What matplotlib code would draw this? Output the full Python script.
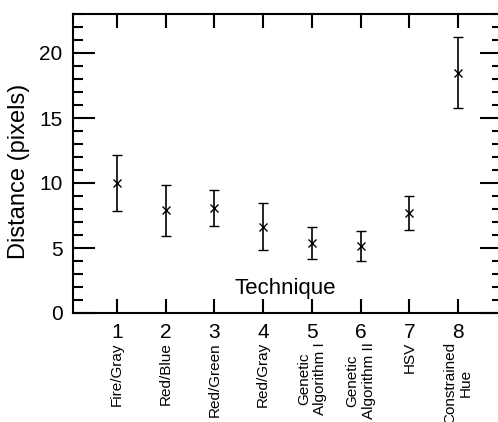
import matplotlib
matplotlib.use("Agg")
import matplotlib.pyplot as plt
from matplotlib.ticker import MultipleLocator

# data
technique = [1, 2, 3, 4, 5, 6, 7, 8]
names = ["Fire/Gray", "Red/Blue", "Red/Green", "Red/Gray",
         "Genetic\nAlgorithm I", "Genetic\nAlgorithm II", "HSV",
         "Constrained\nHue"]
distance = [10.0, 7.9, 8.1, 6.65, 5.4, 5.15, 7.7, 18.5]
err = [2.15, 1.95, 1.4, 1.8, 1.25, 1.17, 1.3, 2.75]

plt.rcParams['font.family'] = ['Liberation Sans', 'DejaVu Sans']

W, H = 498, 422
fig = plt.figure(figsize=(W / 100, H / 100), dpi=100)
# right spine sits just outside the picture, as in the reference
ax = fig.add_axes([73 / W, (H - 313) / H, (502 - 73) / W, (313 - 14) / H])

ax.errorbar(technique, distance, yerr=err, fmt='x', color='black',
            markersize=6, mew=1.0, elinewidth=1.2, capsize=3.5, capthick=1.2)

ax.set_xlim(0.1, 8.9)
ax.set_ylim(0, 23)
for s in ax.spines.values():
    s.set_linewidth(1.5)

ax.set_xticks(technique)
ax.set_xticklabels([str(t) for t in technique], fontsize=15)
ax.yaxis.set_major_locator(MultipleLocator(5))
ax.yaxis.set_minor_locator(MultipleLocator(1))
ax.tick_params(axis='x', which='major', direction='in', length=10, width=1.5,
               top=True, pad=7)
ax.tick_params(axis='y', which='major', direction='in', length=16, width=1.5,
               right=True, labelsize=15, pad=7.5)
ax.tick_params(axis='y', which='minor', direction='in', length=7, width=1.5,
               right=True)

fig.text(19 / W, 1 - 171 / H, "Distance (pixels)", fontsize=17,
         rotation=90, ha='center', va='center')
ax.text(4.45, 1.9, "Technique", fontsize=16, ha='center', va='center')

# technique names hanging below the numbers
for t, n in zip(technique, names):
    ax.annotate(n, xy=(t, 0), xycoords='data', xytext=(0, -21),
                textcoords='offset points', rotation=90, fontsize=11,
                ha='center', va='top', multialignment='center',
                annotation_clip=False)

fig.savefig("out.png", dpi=100)
